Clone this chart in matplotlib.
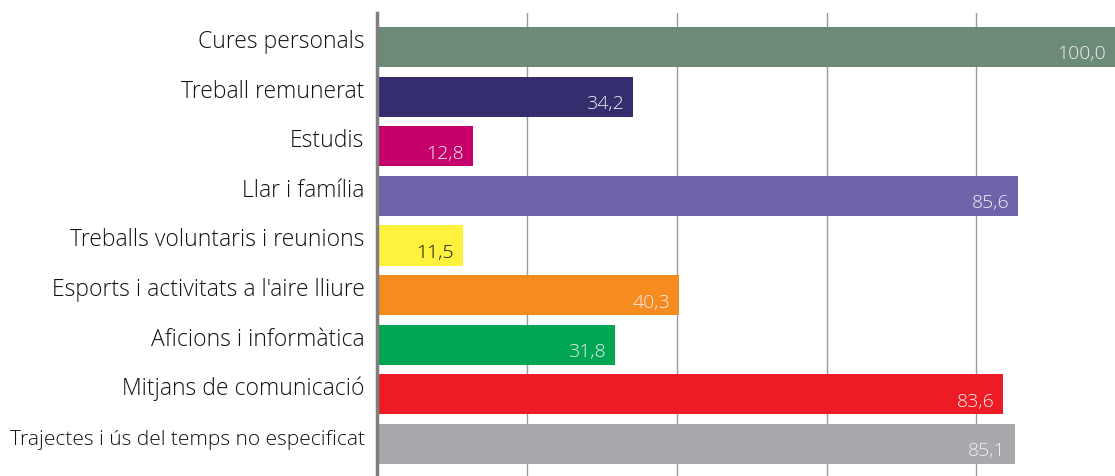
import matplotlib.pyplot as plt
import numpy as np

# activitats i valors (index, Cures personals = 100)
categories = ['Cures personals', 'Treball remunerat', 'Estudis', 'Llar i família',
              'Treballs voluntaris i reunions', "Esports i activitats a l'aire lliure",
              'Aficions i informàtica', 'Mitjans de comunicació',
              'Trajectes i ús del temps no especificat']
values = [100.0, 34.2, 12.8, 85.6, 11.5, 40.3, 31.8, 83.6, 85.1]
colors = ['#6b8a77', '#342d6e', '#c5006b', '#6f63aa', '#fff23c',
          '#f68b20', '#00a651', '#ed1c24', '#a8a9ac']
label_colors = ['#f0f0f0'] * 9
label_colors[4] = '#111111'

plt.rcParams['font.family'] = ['Open Sans', 'DejaVu Sans']

fig = plt.figure(figsize=(11.15, 4.77), dpi=100)
ax = fig.add_axes([377 / 1115, 0, 1 - 377 / 1115, 1 - 14 / 477])

y = np.arange(len(categories))
ax.barh(y, values, height=0.81, color=colors, zorder=3)

ax.set_xlim(0, 98.5)
ax.set_ylim(len(categories) - 1 + 0.645, -0.685)

ax.set_xticks([20, 40, 60, 80])
ax.xaxis.grid(True, color='#9a9a9a', linewidth=1.0, zorder=0)
ax.tick_params(axis='x', bottom=False, labelbottom=False)
ax.tick_params(axis='y', left=False, pad=5.5)

ax.set_yticks(y)
ax.set_yticklabels(categories, fontsize=16.5, fontweight='light', color='#111111', va='baseline')
last = ax.get_yticklabels()[-1]
last.set_fontsize(15)

for s in ['top', 'right', 'bottom']:
    ax.spines[s].set_visible(False)
ax.spines['left'].set_color('#7f7f7f')
ax.spines['left'].set_linewidth(2.5)
ax.spines['left'].set_zorder(4)

for i, v in enumerate(values):
    xt = min(v, 98.5) - 1.2
    ax.text(xt, i + 0.13, f'{v:.1f}'.replace('.', ','), ha='right', va='center',
            fontsize=14, fontweight='light', color=label_colors[i], zorder=5)

fig.savefig('out.png', dpi=100)
